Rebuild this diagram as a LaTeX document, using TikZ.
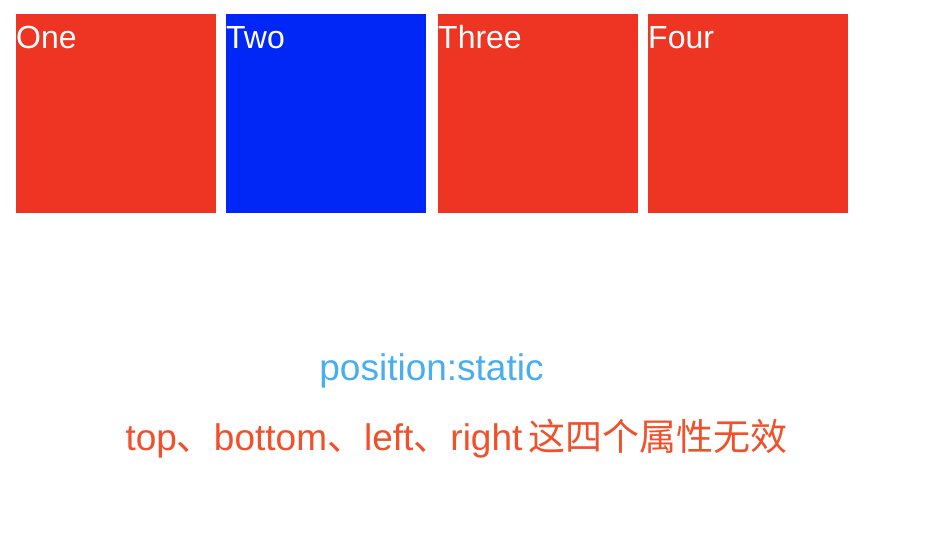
\documentclass[tikz,border=0pt]{standalone}
\usepackage{fontspec}
\setmainfont{Liberation Sans}
\newfontfamily\cjk{Noto Sans CJK SC}
\definecolor{boxred}{HTML}{EE3524}
\definecolor{boxblue}{HTML}{0027F5}
\definecolor{noteblue}{HTML}{48AEF0}
\definecolor{notered}{HTML}{F0502A}
\begin{document}
\begin{tikzpicture}[x=1pt,y=-1pt,
    flexbox/.style={anchor=north west,inner sep=0,minimum width=200pt,minimum height=199pt},
    boxlabel/.style={anchor=base west,inner sep=0,text=white,font=\fontsize{32}{38}\selectfont},
    note/.style={anchor=base,inner sep=0,font=\fontsize{37}{44}\selectfont}]
    \useasboundingbox (0,0) rectangle (932,544);
    % the four boxes
    \node[flexbox,fill=boxred]  (one)   at (16,14) {};
    \node[flexbox,fill=boxblue] (two)   at (226,14) {};
    \node[flexbox,fill=boxred]  (three) at (438,14) {};
    \node[flexbox,fill=boxred]  (four)  at (648,14) {};
    \node[boxlabel] (lone)   at (16,48)  {One};
    \node[boxlabel] (ltwo)   at (226,48) {Two};
    \node[boxlabel] (lthree) at (438,48) {Three};
    \node[boxlabel] (lfour)  at (648,48) {Four};
    % notes
    \node[note,text=noteblue] (pos) at (431.5,380) {position:static};
    \node[note,text=notered] (rule) at (456.5,450) {top{\cjk 、}bottom{\cjk 、}left{\cjk 、}right\hspace{6pt}{\cjk 这四个属性无效}};
\end{tikzpicture}
\end{document}
